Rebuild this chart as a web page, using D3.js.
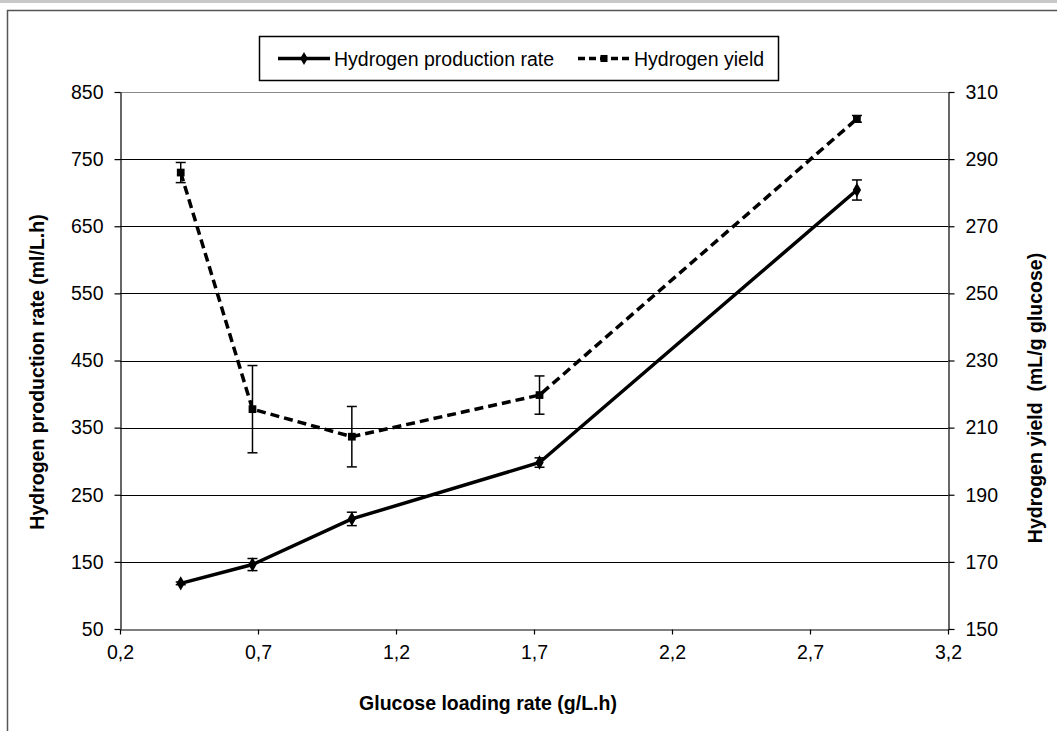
<!DOCTYPE html>
<html>
<head>
<meta charset="utf-8">
<script src="https://cdn.jsdelivr.net/npm/d3@7"></script>
<style>
  body { margin: 0; background: #fff; }
  svg text { font-family: "Liberation Sans", Arial, sans-serif; }
</style>
</head>
<body>
<svg id="chart" width="1057" height="731"></svg>
<script>
// data
const loadingRate = [0.42, 0.68, 1.04, 1.72, 2.87];
const productionRate = [118, 146, 214, 298, 704];
const productionErr = [2, 9, 10, 7, 15];
const hydrogenYield = [286, 215.5, 207.3, 219.7, 302];
const yieldErr = [3, 13, 9, 5.7, 1];
const xTicks = [0.2, 0.7, 1.2, 1.7, 2.2, 2.7, 3.2];
const leftTicks = [50, 150, 250, 350, 450, 550, 650, 750, 850];
const rightTicks = [150, 170, 190, 210, 230, 250, 270, 290, 310];

const svg = d3.select('#chart');
const m = { left: 120, right: 948, top: 92, bottom: 629 };
const fontSize = '19.5px';

// outer frame of the original figure
svg.append('rect').attr('x', 0).attr('y', 0).attr('width', 1057).attr('height', 3).attr('fill', '#c8c8c8');
svg.append('path').attr('d', 'M7.5,740 V10.5 H1060').attr('fill', 'none').attr('stroke', '#555').attr('stroke-width', 1.5);

const x = d3.scaleLinear().domain([0.2, 3.2]).range([m.left, m.right]);
const yL = d3.scaleLinear().domain([50, 850]).range([m.bottom, m.top]);
const yR = d3.scaleLinear().domain([150, 310]).range([m.bottom, m.top]);

// gridlines
svg.append('g')
    .selectAll('line')
    .data(leftTicks.slice(1))
    .enter()
    .append('line')
    .attr('x1', m.left).attr('x2', m.right)
    .attr('y1', (d) => Math.round(yL(d)) + 0.5).attr('y2', (d) => Math.round(yL(d)) + 0.5)
    .attr('stroke', (d) => (d === 850 ? '#888' : '#000'))
    .attr('stroke-width', 1);

const fmt = (d) => d3.format('.1f')(d).replace('.', ',');

const gx = svg.append('g')
    .attr('transform', `translate(0,${m.bottom + 0.5})`)
    .call(d3.axisBottom(x).tickValues(xTicks).tickFormat(fmt).tickSizeInner(5).tickSizeOuter(0).tickPadding(11));
const gl = svg.append('g')
    .attr('transform', `translate(${m.left + 0.5},0)`)
    .call(d3.axisLeft(yL).tickValues(leftTicks).tickSizeInner(6).tickSizeOuter(0).tickPadding(11));
const gr = svg.append('g')
    .attr('transform', `translate(${m.right + 0.5},0)`)
    .call(d3.axisRight(yR).tickValues(rightTicks).tickSizeInner(6).tickSizeOuter(0).tickPadding(11));

[gx, gl, gr].forEach((g) => {
    g.attr('font-size', null).attr('font-family', null);
    g.selectAll('text').style('font-size', fontSize).attr('fill', '#000');
    g.selectAll('line,path').attr('stroke', '#000').attr('stroke-width', 1.2);
});

// axis titles
svg.append('text')
    .attr('x', 488).attr('y', 710)
    .attr('text-anchor', 'middle').attr('font-weight', 'bold').style('font-size', fontSize)
    .text('Glucose loading rate (g/L.h)');
svg.append('text')
    .attr('transform', 'translate(44,372) rotate(-90)')
    .attr('text-anchor', 'middle').attr('font-weight', 'bold').style('font-size', fontSize)
    .text('Hydrogen production rate (ml/L.h)');
svg.append('text')
    .attr('transform', 'translate(1042,398) rotate(-90)')
    .attr('text-anchor', 'middle').attr('font-weight', 'bold').style('font-size', fontSize)
    .attr('xml:space', 'preserve')
    .text('Hydrogen yield  (mL/g glucose)');

const rateData = loadingRate.map((v, i) => ({ x: v, y: productionRate[i], e: productionErr[i] }));
const yieldData = loadingRate.map((v, i) => ({ x: v, y: hydrogenYield[i], e: yieldErr[i] }));

function drawSeries(data, yScale, dash, symbol) {
    const g = svg.append('g');
    g.append('path')
        .datum(data)
        .attr('fill', 'none')
        .attr('stroke', '#000')
        .attr('stroke-width', 3.5)
        .attr('stroke-dasharray', dash)
        .attr('d', d3.line().x((d) => x(d.x)).y((d) => yScale(d.y)));

    const eb = g.selectAll('.err').data(data).enter().append('g').attr('class', 'err');
    eb.append('line')
        .attr('x1', (d) => x(d.x)).attr('x2', (d) => x(d.x))
        .attr('y1', (d) => yScale(d.y - d.e)).attr('y2', (d) => yScale(d.y + d.e))
        .attr('stroke', '#000').attr('stroke-width', 1.5);
    [-1, 1].forEach((s) => {
        eb.append('line')
            .attr('x1', (d) => x(d.x) - 5).attr('x2', (d) => x(d.x) + 5)
            .attr('y1', (d) => yScale(d.y + s * d.e)).attr('y2', (d) => yScale(d.y + s * d.e))
            .attr('stroke', '#000').attr('stroke-width', 1.5);
    });

    g.selectAll('.mark').data(data).enter().append('path')
        .attr('class', 'mark')
        .attr('transform', (d) => `translate(${x(d.x)},${yScale(d.y)})`)
        .attr('d', d3.symbol().type(symbol).size(60))
        .attr('fill', '#000');
}

drawSeries(rateData, yL, null, d3.symbolDiamond);
drawSeries(yieldData, yR, '9,5', d3.symbolSquare);

// legend
const lg = svg.append('g');
lg.append('rect')
    .attr('x', 259.5).attr('y', 36.5).attr('width', 519).attr('height', 44)
    .attr('fill', '#fff').attr('stroke', '#000').attr('stroke-width', 1.5);
const legendItems = [
    { label: 'Hydrogen production rate', x0: 278, dash: null, symbol: d3.symbolDiamond },
    { label: 'Hydrogen yield', x0: 578, dash: '7,4', symbol: d3.symbolSquare },
];
legendItems.forEach((it) => {
    lg.append('line')
        .attr('x1', it.x0).attr('x2', it.x0 + 52).attr('y1', 58.5).attr('y2', 58.5)
        .attr('stroke', '#000').attr('stroke-width', 3.5).attr('stroke-dasharray', it.dash);
    lg.append('path')
        .attr('transform', `translate(${it.x0 + 26},58.5)`)
        .attr('d', d3.symbol().type(it.symbol).size(50))
        .attr('fill', '#000');
    lg.append('text')
        .attr('x', it.x0 + 56).attr('y', 65.5)
        .style('font-size', fontSize)
        .text(it.label);
});
</script>
</body>
</html>
